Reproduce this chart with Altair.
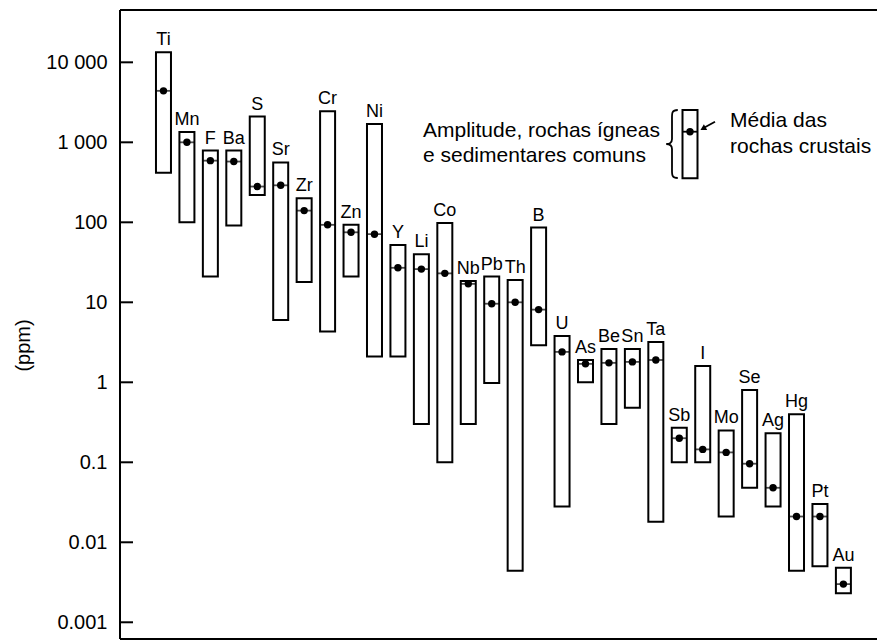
import altair as alt
import pandas as pd

# ---- data ----
elements = ["Ti", "Mn", "F", "Ba", "S", "Sr", "Zr", "Cr", "Zn", "Ni", "Y", "Li", "Co", "Nb", "Pb",
            "Th", "B", "U", "As", "Be", "Sn", "Ta", "Sb", "I", "Mo", "Se", "Ag", "Hg", "Pt", "Au"]
range_max = [13400, 1350, 790, 790, 2100, 560, 200, 2450, 93, 1700, 52, 40, 98, 18.5, 21,
             19, 86, 3.8, 1.9, 2.6, 2.6, 3.2, 0.27, 1.6, 0.25, 0.8, 0.23, 0.4, 0.03, 0.0048]
range_min = [415, 100, 21, 91, 220, 6, 18, 4.3, 21, 2.1, 2.1, 0.3, 0.1, 0.3, 0.98,
             0.0044, 2.9, 0.028, 1.0, 0.3, 0.48, 0.018, 0.1, 0.1, 0.021, 0.048, 0.028, 0.0044, 0.005, 0.0023]
crustal_mean = [4400, 1000, 590, 575, 280, 290, 140, 93, 75, 71, 27, 26, 23, 17, 9.6,
                10, 8.1, 2.4, 1.7, 1.75, 1.8, 1.9, 0.2, 0.145, 0.133, 0.096, 0.048, 0.021, 0.021, 0.003]

tick_values = [0.001, 0.01, 0.1, 1, 10, 100, 1000, 10000]
tick_labels = ["0.001", "0.01", "0.1", "1", "10", "100", "1 000", "10 000"]

legend_left = ["Amplitude, rochas ígneas", "e sedimentares comuns"]
legend_right = ["Média das", "rochas crustais"]
y_title = "(ppm)"

df = pd.DataFrame({
    "idx": list(range(len(elements))),
    "el": elements,
    "lo": range_min,
    "hi": range_max,
    "mean": crustal_mean,
})
ticks_df = pd.DataFrame({"v": tick_values})
one = pd.DataFrame({"a": [0]})

FONT = "Liberation Sans"
W, H = 757, 629

# label expression built from the tick lists
expr = f"'{tick_labels[-1]}'"
for v, lab in reversed(list(zip(tick_values[:-1], tick_labels[:-1]))):
    expr = f"(datum.value < {v * 3} ? '{lab}' : {expr})"

xscale = alt.Scale(domain=[-1.641, 30.22], nice=False, zero=False)
yscale = alt.Scale(type="log", domain=[10 ** -3.209, 10 ** 4.654], nice=False, zero=False)

base = alt.Chart(df)

boxes = base.mark_bar(size=15, fill="white", stroke="black", strokeWidth=2).encode(
    x=alt.X("idx:Q", scale=xscale, axis=None),
    y=alt.Y("lo:Q", scale=yscale,
            axis=alt.Axis(values=tick_values, labelExpr=expr,
                          grid=False, domain=False, ticks=False, labelPadding=13,
                          labelFontSize=20, labelFont=FONT, labelColor="black",
                          title=y_title, titleFont=FONT, titleFontSize=20, titleFontWeight="normal",
                          titleColor="black", titleX=-97, titleY=335, titleAngle=-90,
                          titleAlign="center", titleBaseline="middle")),
    y2="hi:Q",
)

mean_line = base.mark_tick(orient="horizontal", size=15, thickness=1.8, color="black").encode(
    x=alt.X("idx:Q", scale=xscale), y=alt.Y("mean:Q", scale=yscale))
mean_dot = base.mark_point(filled=True, size=55, color="black", opacity=1).encode(
    x=alt.X("idx:Q", scale=xscale), y=alt.Y("mean:Q", scale=yscale))

labels = base.mark_text(dy=-7, baseline="alphabetic", align="center", fontSize=18, font=FONT,
                        color="black").encode(
    x=alt.X("idx:Q", scale=xscale), y=alt.Y("hi:Q", scale=yscale), text="el:N")

tick_marks = alt.Chart(ticks_df).mark_rule(color="black", strokeWidth=2).encode(
    y=alt.Y("v:Q", scale=yscale), x=alt.value(0), x2=alt.value(13))

# ---- frame (left, top, bottom; no right side) ----
ann = alt.Chart(one)
frame_left = ann.mark_rule(color="black", strokeWidth=2).encode(
    x=alt.value(0), y=alt.value(0), y2=alt.value(H))
frame_top = ann.mark_rule(color="black", strokeWidth=2).encode(
    x=alt.value(0), x2=alt.value(W), y=alt.value(0))
frame_bottom = ann.mark_rule(color="black", strokeWidth=2).encode(
    x=alt.value(0), x2=alt.value(W), y=alt.value(H))

# ---- legend annotation ----
leg_box = ann.mark_rect(fill="white", stroke="black", strokeWidth=2).encode(
    x=alt.value(562.5), x2=alt.value(577.5), y=alt.value(100), y2=alt.value(168.3))
leg_line = ann.mark_rule(color="black", strokeWidth=1.8).encode(
    x=alt.value(562.5), x2=alt.value(577.5), y=alt.value(121.7))
leg_dot = ann.mark_point(filled=True, size=55, color="black", opacity=1).encode(
    x=alt.value(570), y=alt.value(121.7))
brace_path = ("M 0.17 -1 C -0.02 -1 0.0 -0.9 0.0 -0.7 L 0.0 -0.15 C 0.0 -0.03 -0.08 0 -0.17 0 "
              "C -0.08 0 0.0 0.03 0.0 0.15 L 0.0 0.7 C 0.0 0.9 -0.02 1 0.17 1")
brace = ann.mark_point(shape=brace_path, filled=False, size=4624, stroke="black", strokeWidth=1.8,
                       opacity=1).encode(x=alt.value(552), y=alt.value(134))
arrow_line = ann.mark_rule(color="black", strokeWidth=1.8).encode(
    x=alt.value(595), x2=alt.value(584), y=alt.value(111.7), y2=alt.value(117.8))
arrow_head = ann.mark_point(shape="triangle-left", angle=331, filled=True, size=45, color="black",
                            opacity=1).encode(x=alt.value(583), y=alt.value(118.5))

txt_kw = dict(align="left", baseline="alphabetic", fontSize=21, font=FONT, color="black")
t1 = ann.mark_text(**txt_kw).encode(x=alt.value(303), y=alt.value(126.7), text=alt.value(legend_left[0]))
t2 = ann.mark_text(**txt_kw).encode(x=alt.value(303), y=alt.value(151.7), text=alt.value(legend_left[1]))
t3 = ann.mark_text(**txt_kw).encode(x=alt.value(610), y=alt.value(116.7), text=alt.value(legend_right[0]))
t4 = ann.mark_text(**txt_kw).encode(x=alt.value(610), y=alt.value(143.3), text=alt.value(legend_right[1]))

chart = alt.layer(
    boxes, mean_line, mean_dot, labels, tick_marks, frame_left, frame_top, frame_bottom,
    leg_box, leg_line, leg_dot, brace, arrow_line, arrow_head, t1, t2, t3, t4,
).properties(
    width=W, height=H,
    background="white",
    autosize=alt.AutoSizeParams(type="none"),
    padding={"left": 120, "top": 10, "right": 0, "bottom": 2},
).configure_view(
    stroke=None, strokeWidth=0,
)

chart.save("out.html", embed_options={"renderer": "svg", "actions": False})
